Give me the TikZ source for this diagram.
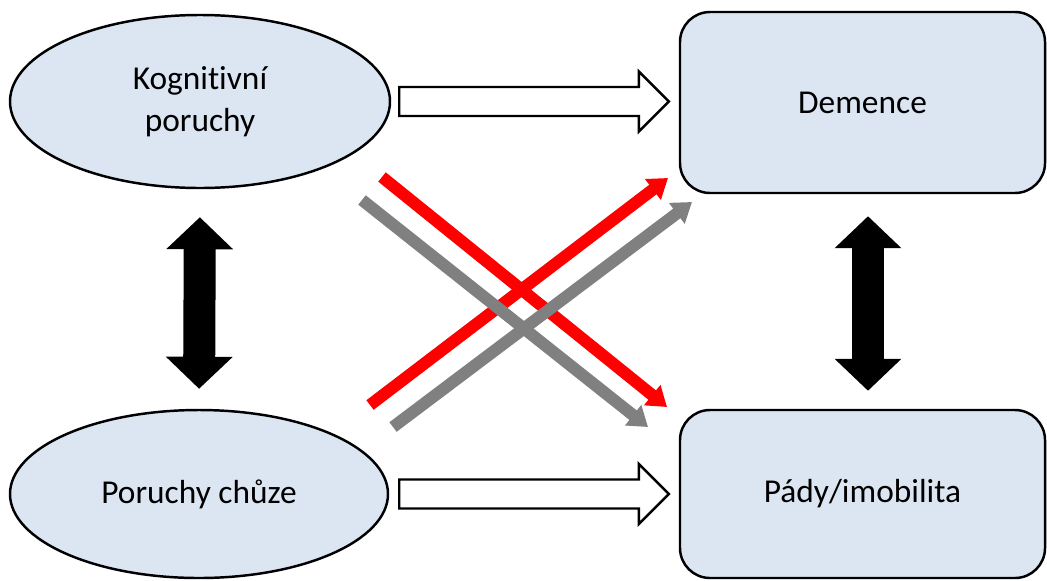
\documentclass[tikz,border=0pt]{standalone}
\usepackage{fontspec}
\setmainfont{Carlito}[Ligatures=NoCommon]
\usepackage{tikz}
\usetikzlibrary{arrows.meta,positioning,shapes.geometric,calc}
\definecolor{paleblue}{RGB}{220,230,242}
\definecolor{midgray}{RGB}{128,128,128}

\begin{document}
\begin{tikzpicture}[
    every node/.style={font=\fontsize{19}{24}\selectfont},
    cause/.style={draw, ellipse, line width=1.4pt, fill=paleblue, align=center},
    effect/.style={draw, rounded corners=0.6cm, line width=1.4pt, fill=paleblue, minimum width=7.3cm, align=center},
    % hollow block arrow, built from the start and end points
    hollow/.style={line width=1.4pt, fill=white, to path={
        let \p1=(\tikztostart), \p2=(\tikztotarget) in
        (\x1,\y1+0.29cm) -- (\x2-0.6cm,\y1+0.29cm) -- (\x2-0.6cm,\y1+0.6cm) -- (\x2,\y1)
        -- (\x2-0.6cm,\y1-0.6cm) -- (\x2-0.6cm,\y1-0.29cm) -- (\x1,\y1-0.29cm) -- cycle}},
    both/.style={line width=0.64cm, {Triangle[width=1.3cm,length=0.64cm]}-{Triangle[width=1.3cm,length=0.64cm]}},
    cross/.style={line width=0.24cm, -{Triangle[width=0.5cm,length=0.38cm]}}
]
    \useasboundingbox (0,0) rectangle (20.94,-11.6);

    \node[cause, minimum width=7.6cm, minimum height=3.46cm] (kog) at (4,-2.03) {Kognitivní\\poruchy};
    \node[cause, minimum width=7.56cm, minimum height=3.36cm] (chuze) at (3.98,-9.88) {Poruchy chůze};
    \node[effect, minimum height=3.62cm] (dem) at (17.25,-2.05) {Demence};
    \node[effect, minimum height=3.36cm] (pady) at (17.25,-9.88) {Pády/imobilita};

    \draw[hollow] ([xshift=0.16cm]kog.east) to ([xshift=-0.2cm]dem.west);
    \draw[hollow] ([xshift=0.2cm]chuze.east) to ([xshift=-0.2cm]pady.west);

    \draw[both, shorten <=0.56cm, shorten >=0.4cm] (kog.south) -- (chuze.north);
    \draw[both, shorten <=0.44cm, shorten >=0.36cm] ([xshift=0.11cm]dem.south) -- ([xshift=0.11cm]pady.north);

    % crossing arrows, free ends
    \coordinate (redupS) at (7.4,-8.1);
    \coordinate (redupE) at (13.36,-3.56);
    \coordinate (reddnS) at (7.64,-3.54);
    \coordinate (reddnE) at (13.34,-8.14);
    \coordinate (grayupS) at (7.86,-8.54);
    \coordinate (grayupE) at (13.84,-4.04);
    \coordinate (graydnS) at (7.24,-4.0);
    \coordinate (graydnE) at (12.96,-8.54);

    \draw[cross, red] (redupS) -- (redupE);
    \draw[cross, red] (reddnS) -- (reddnE);
    \draw[cross, midgray] (grayupS) -- (grayupE);
    \draw[cross, midgray] (graydnS) -- (graydnE);
\end{tikzpicture}
\end{document}
